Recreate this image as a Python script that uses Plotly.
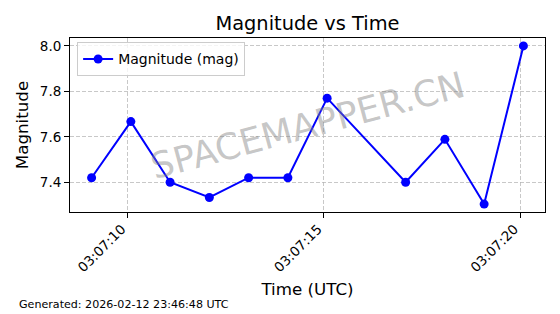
import plotly.graph_objects as go
import pandas as pd

times = ["2026-02-12 03:07:09.080", "2026-02-12 03:07:10.080", "2026-02-12 03:07:11.080",
         "2026-02-12 03:07:12.080", "2026-02-12 03:07:13.080", "2026-02-12 03:07:14.080",
         "2026-02-12 03:07:15.080", "2026-02-12 03:07:17.080", "2026-02-12 03:07:18.080",
         "2026-02-12 03:07:19.080", "2026-02-12 03:07:20.080"]
magnitudes = [7.42, 7.667, 7.40, 7.333, 7.42, 7.42, 7.77, 7.40, 7.589, 7.304, 8.00]
series_name = "Magnitude (mag)"
title_text = "Magnitude vs Time"
x_title = "Time (UTC)"
y_title = "Magnitude"
footer_text = "Generated: 2026-02-12 23:46:48 UTC"
watermark_text = "SPACEMAPPER.CN"

x = pd.to_datetime(times)
FONT = "DejaVu Sans"

fig = go.Figure()
fig.add_trace(go.Scatter(
    x=x, y=magnitudes, mode="lines+markers", name=series_name,
    line=dict(color="#0000ff", width=2),
    marker=dict(color="#0000ff", size=9),
))

span = (x.max() - x.min())
xr = [x.min() - span * 0.05, x.max() + span * 0.05]
ymin, ymax = min(magnitudes), max(magnitudes)
yr = [ymin - (ymax - ymin) * 0.05, ymax + (ymax - ymin) * 0.05]

grid = dict(showgrid=True, gridcolor="rgba(176,176,176,0.7)", griddash="4px,2px", gridwidth=1)
fig.update_xaxes(
    type="date", range=xr, tickformat="%H:%M:%S", dtick=5000,
    tick0="2026-02-12 03:07:10", tickangle=-45,
    ticklabelshift=-6, ticklabelstandoff=-2,
    showline=True, linecolor="black", linewidth=1, mirror=True,
    ticks="outside", ticklen=5, tickcolor="black",
    tickfont=dict(size=13.5, color="black", family=FONT),
    title=dict(text=x_title, font=dict(size=16.7, color="black", family=FONT), standoff=9),
    zeroline=False, **grid,
)
fig.update_yaxes(
    range=yr, tickvals=[7.4, 7.6, 7.8, 8.0], ticktext=["7.4", "7.6", "7.8", "8.0"],
    showline=True, linecolor="black", linewidth=1, mirror=True,
    ticks="outside", ticklen=5, tickcolor="black",
    tickfont=dict(size=13.5, color="black", family=FONT),
    title=dict(text=y_title, font=dict(size=16.7, color="black", family=FONT), standoff=6),
    zeroline=False, **grid,
)

fig.add_annotation(
    text=watermark_text, xref="paper", yref="paper", x=0.5, y=0.5,
    showarrow=False, textangle=-15,
    font=dict(size=36, color="rgba(128,128,128,0.45)", family=FONT),
)
fig.add_annotation(
    text=footer_text, xref="paper", yref="paper", x=-0.1116, y=-0.534,
    xanchor="left", yanchor="middle", showarrow=False,
    font=dict(size=11.1, color="black", family=FONT),
)

fig.update_layout(
    width=560, height=314,
    margin=dict(l=70, r=15, t=38, b=102),
    paper_bgcolor="white", plot_bgcolor="white",
    font=dict(family=FONT, color="black"),
    title=dict(text=title_text, x=307.5 / 560, xanchor="center", y=1 - 23 / 314, yanchor="middle",
               font=dict(size=19.4, color="black", family=FONT)),
    showlegend=True,
    legend=dict(x=0.015, y=0.975, xanchor="left", yanchor="top",
                bgcolor="rgba(255,255,255,0.8)", bordercolor="#cccccc", borderwidth=1,
                font=dict(size=14, color="black", family=FONT)),
)

fig.write_html("out.html")
